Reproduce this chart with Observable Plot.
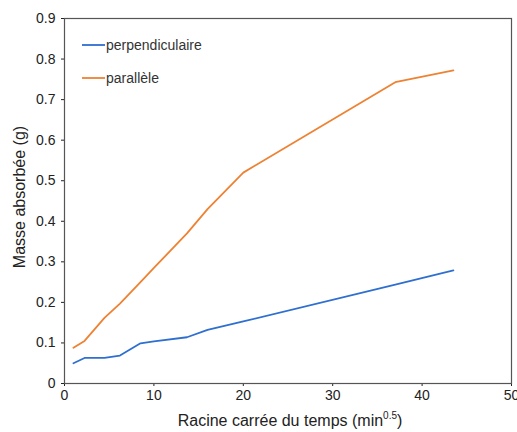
<!DOCTYPE html>
<html>
<head>
<meta charset="utf-8">
<script src="https://cdn.jsdelivr.net/npm/d3@7"></script>
<script src="https://cdn.jsdelivr.net/npm/@observablehq/plot@0.6"></script>
<style>
  html, body { margin: 0; padding: 0; background: #fff; }
  #chart { width: 517px; height: 432px; }
</style>
</head>
<body>
<div id="chart"></div>
<script>
const timeSqrt = [1, 2.24, 4.47, 6.2, 8.5, 10, 13.7, 16, 20, 37, 43.5];
const perpendiculaire = [0.05, 0.063, 0.063, 0.069, 0.099, 0.104, 0.114, 0.132, 0.153, 0.244, 0.279];
const parallele = [0.088, 0.105, 0.162, 0.197, 0.25, 0.285, 0.37, 0.43, 0.52, 0.743, 0.772];
const seriesNames = ["perpendiculaire", "parallèle"];
const seriesColors = ["#2e6fcf", "#ee8233"];
const xTicks = [0, 10, 20, 30, 40, 50];
const yTicks = [0, 0.1, 0.2, 0.3, 0.4, 0.5, 0.6, 0.7, 0.8, 0.9];

const data = [];
[perpendiculaire, parallele].forEach((vals, si) => {
  vals.forEach((v, i) => data.push({ x: timeSqrt[i], y: v, s: seriesNames[si] }));
});

const font = "'Liberation Sans', Arial, sans-serif";
const plot = Plot.plot({
  width: 517,
  height: 432,
  marginLeft: 64,
  marginRight: 6,
  marginTop: 18,
  marginBottom: 49,
  style: { fontFamily: font, fontSize: "14px", color: "#222", background: "#fff" },
  x: { domain: [0, 50], ticks: xTicks, label: null, tickSize: 3, tickPadding: 4 },
  y: { domain: [0, 0.9], ticks: yTicks, label: null, tickSize: 3, tickPadding: 6, tickFormat: d => String(Math.round(d * 10) / 10) },
  color: { domain: seriesNames, range: seriesColors },
  marks: [
    Plot.frame({ stroke: "#555", strokeWidth: 1.2 }),
    Plot.line(data, { x: "x", y: "y", z: "s", stroke: "s", strokeWidth: 1.8 })
  ]
});
document.getElementById("chart").appendChild(plot);

const svg = d3.select(plot);

// x-axis title with superscript
const xt = svg.append("text")
  .attr("x", 290).attr("y", 426)
  .attr("text-anchor", "middle")
  .attr("font-family", font).attr("font-size", 16).attr("fill", "#222");
xt.append("tspan").text("Racine carrée du temps (min");
xt.append("tspan").attr("font-size", 10).attr("dy", -7).text("0.5");
xt.append("tspan").attr("dy", 7).text(")");

// y-axis title
svg.append("text")
  .attr("transform", "translate(25,197) rotate(-90)")
  .attr("text-anchor", "middle")
  .attr("font-family", font).attr("font-size", 16).attr("fill", "#222")
  .text("Masse absorbée (g)");

// legend
seriesNames.forEach((name, i) => {
  const yy = 45 + i * 33;
  svg.append("line").attr("x1", 82).attr("x2", 105).attr("y1", yy).attr("y2", yy)
    .attr("stroke", seriesColors[i]).attr("stroke-width", 1.8);
  svg.append("text").attr("x", 106).attr("y", yy + 5)
    .attr("text-anchor", "start")
    .attr("font-family", font).attr("font-size", 14).attr("fill", "#333")
    .text(name);
});
</script>
</body>
</html>
